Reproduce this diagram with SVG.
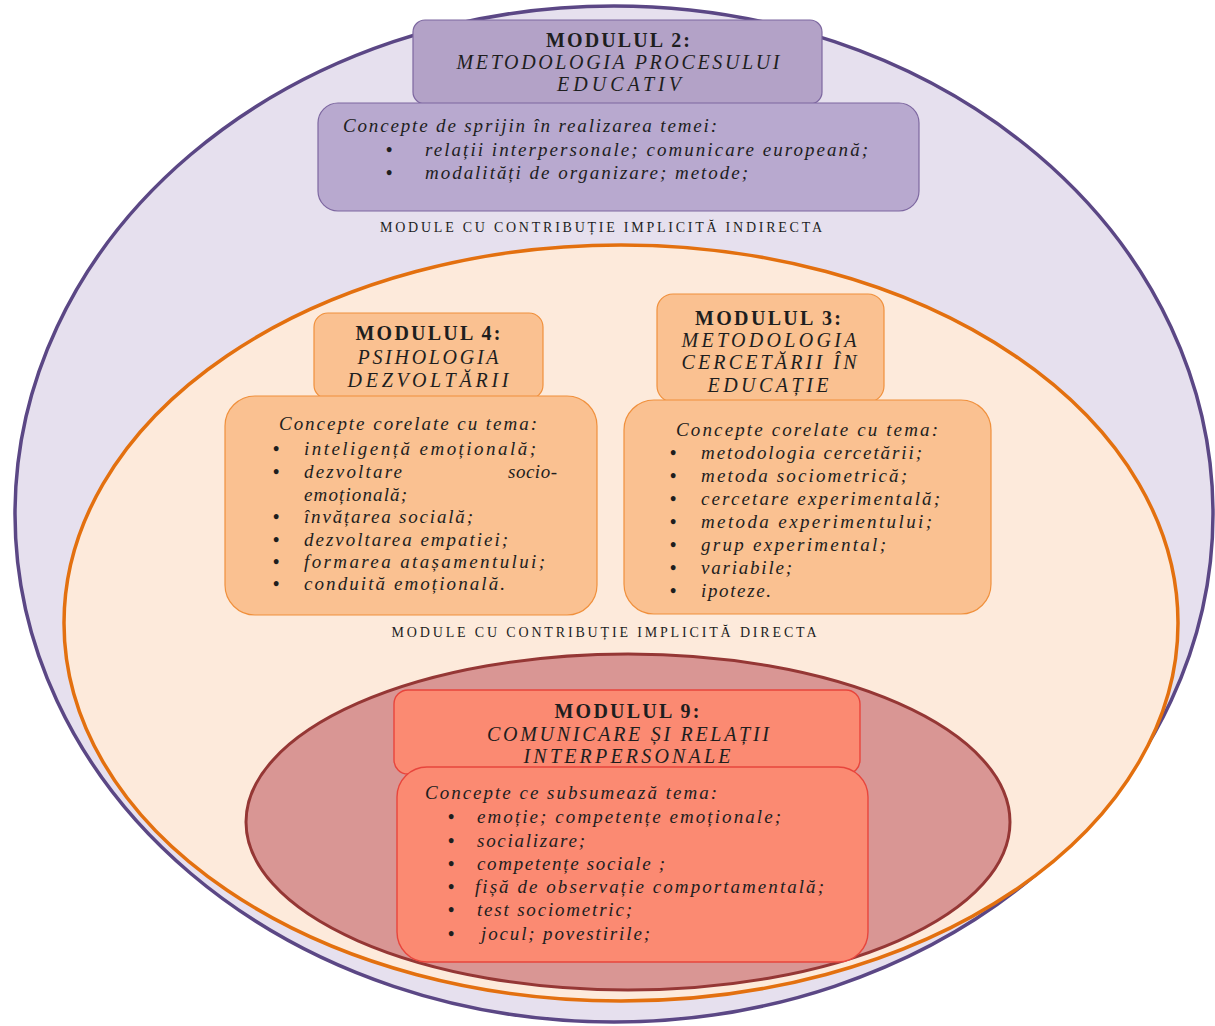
<svg xmlns="http://www.w3.org/2000/svg" width="1215" height="1026" viewBox="0 0 1215 1026">
<style>
  text { font-family: "Liberation Serif", "Times New Roman", serif; fill: #1e1e1e; }
  .hb { font-size: 20px; font-weight: bold; text-anchor: middle; }
  .hi { font-size: 20px; font-style: italic; text-anchor: middle; }
  .ci { font-size: 19px; font-style: italic; }
  .bul { font-size: 18px; font-weight: bold; }
  .lbl { font-size: 14px; text-anchor: middle; }
  .purpleBox { fill: #b3a2c7; stroke: #7d67a0; stroke-width: 1.2; }
  .purpleBody { fill: #b8a9cf; stroke: #7d67a0; stroke-width: 1.2; }
  .orangeBox { fill: #fac191; stroke: #f0903c; stroke-width: 1.2; }
  .redBox { fill: #fb8a72; stroke: #e8453c; stroke-width: 1.4; }
</style>
<rect width="1215" height="1026" fill="#ffffff"/>

<g id="zone-indirect">
  <ellipse cx="614" cy="514" rx="599" ry="508" fill="#e6e0ee" stroke="#5b4785" stroke-width="3.5"/>
</g>
<g id="zone-direct">
  <ellipse cx="621" cy="623" rx="557" ry="378" fill="#fdeadb" stroke="#e3700f" stroke-width="3.5"/>
</g>
<g id="zone-core">
  <ellipse cx="628" cy="822" rx="382" ry="168" fill="#d99694" stroke="#953735" stroke-width="3"/>
</g>

<g id="connectors"/>

<g id="modulul2">
  <rect class="purpleBox" x="413" y="20" width="409" height="84" rx="12"/>
  <rect class="purpleBody" x="318" y="103" width="601" height="108" rx="20"/>
  <text class="hb" x="618" y="47" textLength="144" lengthAdjust="spacing">MODULUL 2:</text>
  <text class="hi" x="618" y="69" textLength="323" lengthAdjust="spacing">METODOLOGIA PROCESULUI</text>
  <text class="hi" x="619" y="91" textLength="124" lengthAdjust="spacing">EDUCATIV</text>
  <text class="ci" x="343" y="132" textLength="374" lengthAdjust="spacing">Concepte de sprijin în realizarea temei:</text>
  <text class="bul" x="386" y="156">•</text>
  <text class="ci" x="425" y="156" textLength="443" lengthAdjust="spacing">relații interpersonale; comunicare europeană;</text>
  <text class="bul" x="386" y="179">•</text>
  <text class="ci" x="425" y="179" textLength="323" lengthAdjust="spacing">modalități de organizare; metode;</text>
</g>

<g id="label-indirect">
  <text class="lbl" x="601" y="232" textLength="442" lengthAdjust="spacing">MODULE CU CONTRIBUȚIE IMPLICITĂ INDIRECTA</text>
</g>

<g id="modulul4">
  <rect class="orangeBox" x="314" y="313" width="229" height="86" rx="14"/>
  <rect class="orangeBox" x="225" y="396" width="372" height="219" rx="30"/>
  <text class="hb" x="428" y="340" textLength="145" lengthAdjust="spacing">MODULUL 4:</text>
  <text class="hi" x="428" y="364" textLength="141" lengthAdjust="spacing">PSIHOLOGIA</text>
  <text class="hi" x="428" y="387" textLength="161" lengthAdjust="spacing">DEZVOLTĂRII</text>
  <text class="ci" x="279" y="430" textLength="258" lengthAdjust="spacing">Concepte corelate cu tema:</text>
  <text class="bul" x="273" y="455">•</text>
  <text class="ci" x="304" y="455" textLength="232" lengthAdjust="spacing">inteligență emoțională;</text>
  <text class="bul" x="273" y="478">•</text>
  <text class="ci" x="304" y="478" textLength="98" lengthAdjust="spacing">dezvoltare</text>
  <text class="ci" x="508" y="478" textLength="49" lengthAdjust="spacing">socio-</text>
  <text class="ci" x="304" y="501" textLength="103" lengthAdjust="spacing">emoțională;</text>
  <text class="bul" x="273" y="523">•</text>
  <text class="ci" x="304" y="523" textLength="169" lengthAdjust="spacing">învățarea socială;</text>
  <text class="bul" x="273" y="546">•</text>
  <text class="ci" x="304" y="546" textLength="204" lengthAdjust="spacing">dezvoltarea empatiei;</text>
  <text class="bul" x="273" y="568">•</text>
  <text class="ci" x="304" y="568" textLength="241" lengthAdjust="spacing">formarea atașamentului;</text>
  <text class="bul" x="273" y="590">•</text>
  <text class="ci" x="304" y="590" textLength="201" lengthAdjust="spacing">conduită emoțională.</text>
</g>

<g id="modulul3">
  <rect class="orangeBox" x="657" y="294" width="227" height="108" rx="16"/>
  <rect class="orangeBox" x="624" y="400" width="367" height="214" rx="30"/>
  <text class="hb" x="768" y="325" textLength="146" lengthAdjust="spacing">MODULUL 3:</text>
  <text class="hi" x="769" y="347" textLength="175" lengthAdjust="spacing">METODOLOGIA</text>
  <text class="hi" x="769" y="369" textLength="175" lengthAdjust="spacing">CERCETĂRII ÎN</text>
  <text class="hi" x="768" y="392" textLength="121" lengthAdjust="spacing">EDUCAȚIE</text>
  <text class="ci" x="676" y="436" textLength="262" lengthAdjust="spacing">Concepte corelate cu tema:</text>
  <text class="bul" x="670" y="459">•</text>
  <text class="ci" x="701" y="459" textLength="221" lengthAdjust="spacing">metodologia cercetării;</text>
  <text class="bul" x="670" y="482">•</text>
  <text class="ci" x="701" y="482" textLength="206" lengthAdjust="spacing">metoda sociometrică;</text>
  <text class="bul" x="670" y="505">•</text>
  <text class="ci" x="701" y="505" textLength="239" lengthAdjust="spacing">cercetare experimentală;</text>
  <text class="bul" x="670" y="528">•</text>
  <text class="ci" x="701" y="528" textLength="231" lengthAdjust="spacing">metoda experimentului;</text>
  <text class="bul" x="670" y="551">•</text>
  <text class="ci" x="701" y="551" textLength="185" lengthAdjust="spacing">grup experimental;</text>
  <text class="bul" x="670" y="574">•</text>
  <text class="ci" x="701" y="574" textLength="91" lengthAdjust="spacing">variabile;</text>
  <text class="bul" x="670" y="597">•</text>
  <text class="ci" x="701" y="597" textLength="70" lengthAdjust="spacing">ipoteze.</text>
</g>

<g id="label-direct">
  <text class="lbl" x="604" y="637" textLength="425" lengthAdjust="spacing">MODULE CU CONTRIBUȚIE IMPLICITĂ DIRECTA</text>
</g>

<g id="modulul9">
  <rect class="redBox" x="394" y="690" width="466" height="84" rx="14"/>
  <rect class="redBox" x="397" y="767" width="471" height="195" rx="30"/>
  <text class="hb" x="627" y="718" textLength="145" lengthAdjust="spacing">MODULUL 9:</text>
  <text class="hi" x="628" y="741" textLength="282" lengthAdjust="spacing">COMUNICARE ȘI RELAȚII</text>
  <text class="hi" x="627" y="763" textLength="207" lengthAdjust="spacing">INTERPERSONALE</text>
  <text class="ci" x="425" y="799" textLength="292" lengthAdjust="spacing">Concepte ce subsumează tema:</text>
  <text class="bul" x="448" y="823">•</text>
  <text class="ci" x="477" y="823" textLength="304" lengthAdjust="spacing">emoție; competențe emoționale;</text>
  <text class="bul" x="448" y="847">•</text>
  <text class="ci" x="477" y="847" textLength="108" lengthAdjust="spacing">socializare;</text>
  <text class="bul" x="448" y="870">•</text>
  <text class="ci" x="477" y="870" textLength="188" lengthAdjust="spacing">competențe sociale ;</text>
  <text class="bul" x="448" y="893">•</text>
  <text class="ci" x="475" y="893" textLength="349" lengthAdjust="spacing">fișă de observație comportamentală;</text>
  <text class="bul" x="448" y="916">•</text>
  <text class="ci" x="477" y="916" textLength="155" lengthAdjust="spacing">test sociometric;</text>
  <text class="bul" x="448" y="940">•</text>
  <text class="ci" x="481" y="940" textLength="169" lengthAdjust="spacing">jocul; povestirile;</text>
</g>
</svg>
